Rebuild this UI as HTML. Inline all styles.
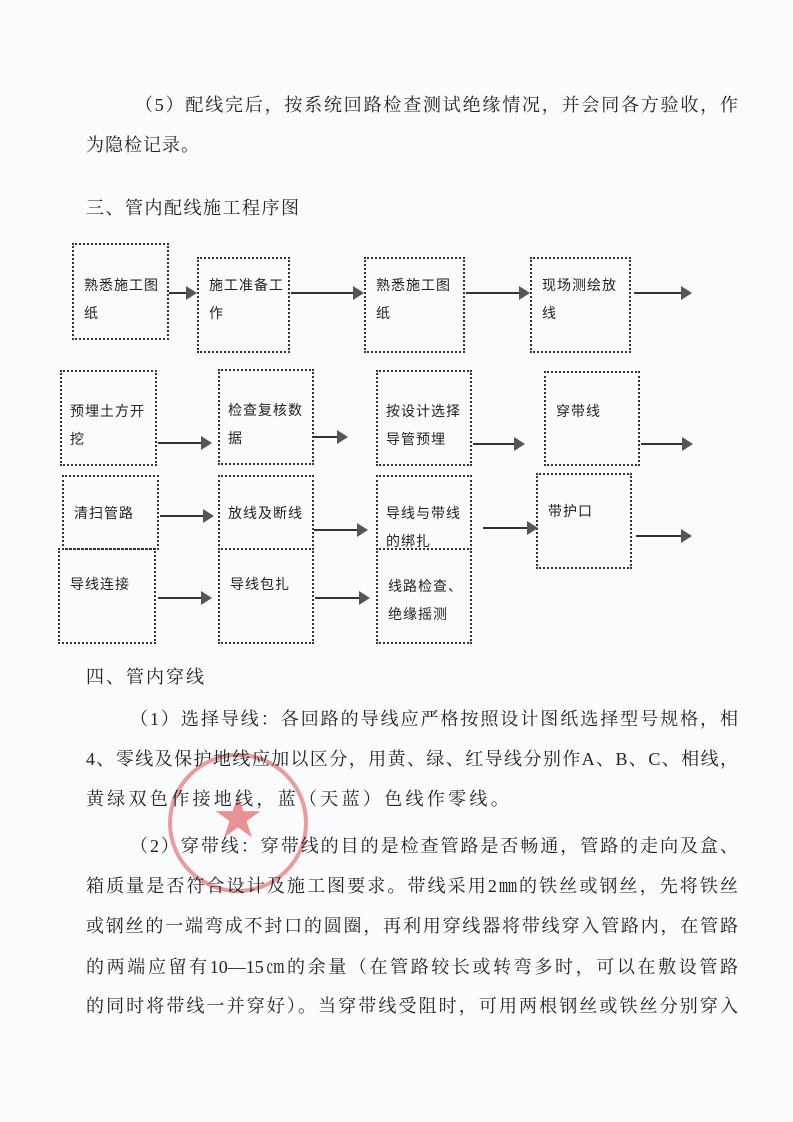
<!DOCTYPE html>
<html><head><meta charset="utf-8"><style>
body{margin:0;width:793px;height:1122px;background:#fafbfc;position:relative;overflow:hidden;font-family:"Liberation Serif","Noto Serif CJK SC","Noto Sans CJK SC",serif;color:#222}
.l{position:absolute;left:86px;width:652px;font-size:18px;line-height:24px;white-space:nowrap}
.j{text-align:justify;text-align-last:justify}
.b{position:absolute;border:2px dotted #333;box-sizing:border-box;font-family:"Liberation Sans","Noto Sans CJK SC",sans-serif;font-size:14px;letter-spacing:1px;line-height:28px;padding-left:10px;color:#222;white-space:nowrap}
.a{position:absolute;height:2px;background:#333}
.a:after{content:"";position:absolute;right:-2px;top:-6px;border-left:11px solid #555;border-top:7px solid transparent;border-bottom:7px solid transparent}
</style></head><body>
<div class="l j" style="top:93px;left:135px;width:603px">（5）配线完后，按系统回路检查测试绝缘情况，并会同各方验收，作</div>
<div class="l" style="top:133px;letter-spacing:1px">为隐检记录。</div>
<div class="l" style="top:196px;letter-spacing:1.5px">三、管内配线施工程序图</div>

<div class="b" style="left:72px;top:243px;width:97px;height:97px;padding-top:26px">熟悉施工图<br>纸</div>
<div class="b" style="left:197px;top:257px;width:93px;height:96px;padding-top:12px">施工准备工<br>作</div>
<div class="b" style="left:364px;top:257px;width:101px;height:96px;padding-top:12px">熟悉施工图<br>纸</div>
<div class="b" style="left:530px;top:257px;width:101px;height:96px;padding-top:12px">现场测绘放<br>线</div>
<div class="a" style="left:169px;top:292px;width:26px"></div>
<div class="a" style="left:291px;top:292px;width:71px"></div>
<div class="a" style="left:466px;top:292px;width:62px"></div>
<div class="a" style="left:634px;top:292px;width:56px"></div>

<div class="b" style="left:60px;top:370px;width:97px;height:96px;padding-top:25px;padding-left:8px">预埋土方开<br>挖</div>
<div class="b" style="left:218px;top:369px;width:96px;height:96px;padding-top:25px;padding-left:8px">检查复核数<br>据</div>
<div class="b" style="left:376px;top:370px;width:96px;height:96px;padding-top:25px;padding-left:8px">按设计选择<br>导管预埋</div>
<div class="b" style="left:544px;top:371px;width:96px;height:95px;padding-top:24px">穿带线</div>
<div class="a" style="left:158px;top:442px;width:52px"></div>
<div class="a" style="left:314px;top:436px;width:32px"></div>
<div class="a" style="left:473px;top:443px;width:50px"></div>
<div class="a" style="left:641px;top:443px;width:50px"></div>

<div class="b" style="left:62px;top:475px;width:97px;height:75px;padding-top:22px">清扫管路</div>
<div class="b" style="left:218px;top:475px;width:96px;height:75px;padding-top:22px;padding-left:8px">放线及断线</div>
<div class="b" style="left:376px;top:475px;width:96px;height:75px;padding-top:22px;padding-left:8px">导线与带线<br>的绑扎</div>
<div class="b" style="left:536px;top:473px;width:96px;height:96px;padding-top:22px">带护口</div>
<div class="a" style="left:160px;top:515px;width:52px"></div>
<div class="a" style="left:314px;top:529px;width:52px"></div>
<div class="a" style="left:483px;top:527px;width:53px"></div>
<div class="a" style="left:636px;top:535px;width:54px"></div>

<div class="b" style="left:58px;top:548px;width:98px;height:96px;padding-top:20px">导线连接</div>
<div class="b" style="left:218px;top:548px;width:96px;height:96px;padding-top:20px">导线包扎</div>
<div class="b" style="left:376px;top:548px;width:96px;height:96px;padding-top:22px">线路检查、<br>绝缘摇测</div>
<div class="a" style="left:158px;top:597px;width:52px"></div>
<div class="a" style="left:315px;top:597px;width:53px"></div>

<div style="position:absolute;left:168px;top:753px;width:132px;height:132px;border:4px solid rgba(220,60,60,.5);border-radius:50%;color:rgba(220,60,60,.55);font-size:48px;text-align:center;line-height:124px">★</div>

<div class="l" style="top:665px;letter-spacing:2px">四、管内穿线</div>
<div class="l j" style="top:707px;left:130px;width:608px">（1）选择导线：各回路的导线应严格按照设计图纸选择型号规格，相</div>
<div class="l j" style="top:747px">4、零线及保护地线应加以区分，用黄、绿、红导线分别作A、B、C、相线，</div>
<div class="l" style="top:787px;letter-spacing:3.3px">黄绿双色作接地线，蓝（天蓝）色线作零线。</div>
<div class="l j" style="top:834px;left:130px;width:608px">（2）穿带线：穿带线的目的是检查管路是否畅通，管路的走向及盒、</div>
<div class="l j" style="top:874px">箱质量是否符合设计及施工图要求。带线采用2㎜的铁丝或钢丝，先将铁丝</div>
<div class="l j" style="top:914px">或钢丝的一端弯成不封口的圆圈，再利用穿线器将带线穿入管路内，在管路</div>
<div class="l j" style="top:955px">的两端应留有10—15㎝的余量（在管路较长或转弯多时，可以在敷设管路</div>
<div class="l j" style="top:994px">的同时将带线一并穿好）。当穿带线受阻时，可用两根钢丝或铁丝分别穿入</div>
</body></html>
